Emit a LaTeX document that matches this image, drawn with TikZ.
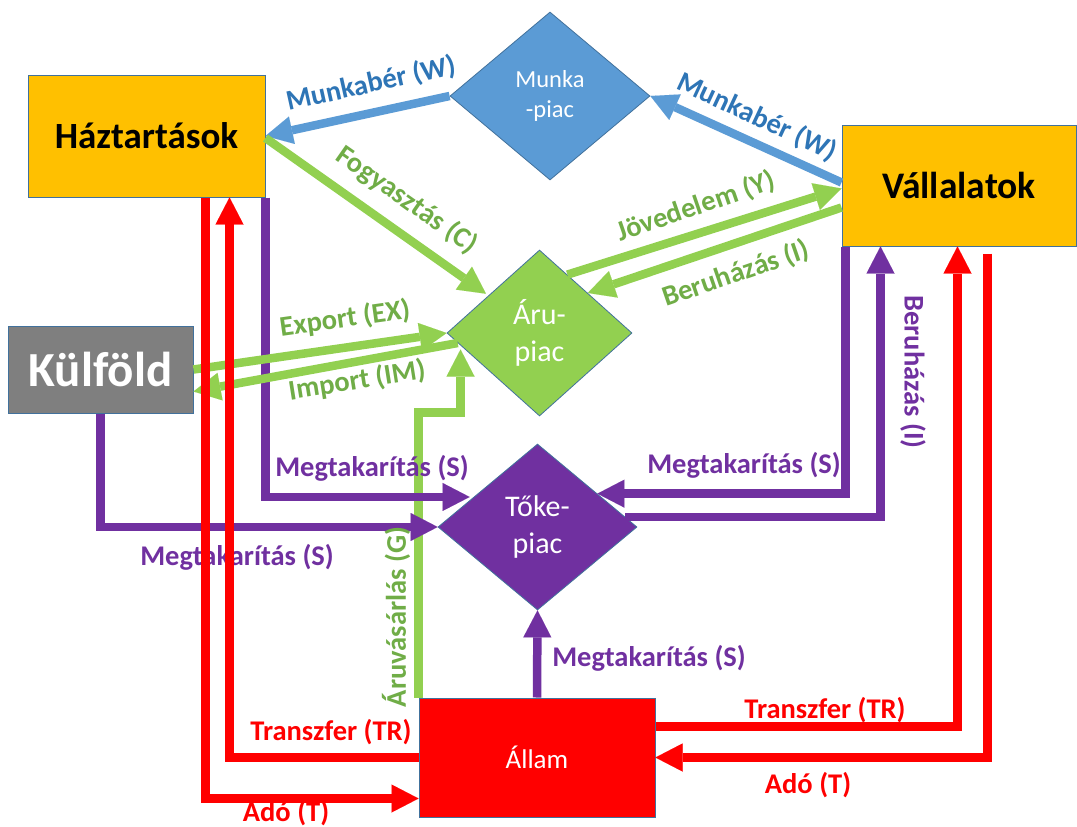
\documentclass[tikz,border=0pt]{standalone}
\usepackage{fontspec}
\setmainfont{Carlito}
\usetikzlibrary{shapes.geometric,arrows.meta,calc}

\definecolor{cyellow}{HTML}{FFC000}
\definecolor{cgrey}{HTML}{7F7F7F}
\definecolor{cblue}{HTML}{5B9BD5}
\definecolor{cbluetxt}{HTML}{2E75B6}
\definecolor{cgreen}{HTML}{92D050}
\definecolor{cgreentxt}{HTML}{70AD47}
\definecolor{cpurple}{HTML}{7030A0}
\definecolor{cred}{HTML}{FF0000}
\definecolor{cedge}{HTML}{41719C}

\begin{document}
\begin{tikzpicture}[x=1pt,y=-1pt,
  box/.style={draw=cedge, line width=1pt, inner sep=0pt, align=center},
  market/.style={diamond, draw=cedge, line width=0.8pt, inner sep=0pt,
    text=white, align=center, font=\fontsize{30}{37}\selectfont},
  flow/.style={line width=8.5pt,
    -{Triangle[length=27pt,width=28pt,line width=0.01pt]}},
  lbl/.style={font=\fontsize{28.5}{31}\selectfont\bfseries, inner sep=0pt},
]
\fill[white] (0,0) rectangle (1077,827);
\useasboundingbox (0,0) rectangle (1077,827);

% sectors
\node[box, fill=cyellow, minimum width=237pt, minimum height=122pt,
  font=\fontsize{37}{40}\selectfont\bfseries] (ht) at (146.5,136) {Háztartások};
\node[box, fill=cyellow, minimum width=234pt, minimum height=121pt,
  font=\fontsize{37.5}{40}\selectfont\bfseries] (va) at (959,185.5) {Vállalatok};
\node[box, fill=cgrey, text=white, minimum width=185pt, minimum height=87pt,
  font=\fontsize{49}{52}\selectfont\bfseries] (kf) at (100.5,369.5) {Külföld};
\node[box, fill=cred, text=white, minimum width=236pt, minimum height=119pt,
  font=\fontsize{27}{30}\selectfont] (al) at (537,757.5) {Állam};

% markets
\node[market, fill=cblue, minimum width=200pt, minimum height=168pt,
  font=\fontsize{24.5}{30}\selectfont] (mp) at (550,96) {Munka\\-piac};
\node[market, fill=cgreen, minimum width=185pt, minimum height=166pt]
  (ap) at (539.5,333) {Áru-\\piac};
\node[market, fill=cpurple, minimum width=199pt, minimum height=166pt]
  (tp) at (537.5,527) {Tőke-\\piac};

% wages
\draw[flow, cblue] (mp.west) -- (ht.east);
\draw[flow, cblue] ($(va.west)+(0,-3)$) -- (mp.east);

% government purchases
\coordinate (gtip) at ($(ap.west)!0.15!(ap.south)+(0,4)$);
\draw[flow, cgreen] (al.north west) |- ($(gtip)+(0,63)$) -- (gtip);

% savings and investment
\draw[flow, cpurple] (ht.south east) |- ($(tp.west)!0.36!(tp.north)+(-4,0)$);
\draw[flow, cpurple] (kf.south) |- (tp.west);
\draw[flow, cpurple] ($(va.south west)+(4,0)$) |- ($(tp.north)!0.6!(tp.east)$);
\draw[flow, cpurple] ($(tp.north)!0.88!(tp.east)$) -| ($(va.south west)+(39,0)$);
\draw[flow, cpurple] (al.north) -- (tp.south);

% goods market flows
\draw[flow, cgreen, shorten >=3pt] ($(ht.east)+(0,2)$) -- ($(ap.west)!0.45!(ap.north)$);
\draw[flow, cgreen] ($(ap.north)!0.3!(ap.east)$) -- ($(va.west)+(0,3)$);
\draw[flow, cgreen] ($(va.west)+(0,22)$) -- ($(ap.north)!0.52!(ap.east)$);
\draw[flow, cgreen] (kf.east) -- (ap.west);
\draw[flow, cgreen] ($(ap.west)!0.12!(ap.south)$) -- ($(kf.south east)!0.25!(kf.north east)$);

% labels
\node[lbl, text=cbluetxt, rotate=12.5] at (371,84) {Munkabér (W)};
\node[lbl, text=cbluetxt, rotate=-25] at (757,117) {Munkabér (W)};
\node[lbl, text=cgreentxt, rotate=-35] at (407,200) {Fogyasztás (C)};
\node[lbl, text=cgreentxt, rotate=19] at (696,207) {Jövedelem (Y)};
\node[lbl, text=cgreentxt, rotate=19] at (736,274) {Beruházás (I)};
\node[lbl, text=cgreentxt, rotate=8] at (345,319) {Export (EX)};
\node[lbl, text=cgreentxt, rotate=9] at (357,381) {Import (IM)};
\node[lbl, text=cgreentxt, rotate=90] at (396,617) {Áruvásárlás (G)};
\node[lbl, text=cpurple] at (372,468) {Megtakarítás (S)};
\node[lbl, text=cpurple] at (237,557) {Megtakarítás (S)};
\node[lbl, text=cpurple] at (744,465) {Megtakarítás (S)};
\node[lbl, text=cpurple] at (649,658) {Megtakarítás (S)};
\node[lbl, text=cpurple, rotate=-90] at (913,372) {Beruházás (I)};
\node[lbl, text=cred] at (331,732) {Transzfer (TR)};
\node[lbl, text=cred] at (286,813) {Adó (T)};
\node[lbl, text=cred] at (825,710) {Transzfer (TR)};
\node[lbl, text=cred] at (808,785) {Adó (T)};

% transfers and taxes
\draw[flow, cred] (al.west) -| ($(ht.south west)+(202,0)$);
\draw[flow, cred] ($(ht.south west)+(178,0)$) |- ($(al.south west)+(0,-19)$);
\draw[flow, cred] ($(al.north east)+(0,29)$) -| ($(va.south west)+(116,0)$);
\draw[flow, cred] ($(va.south west)+(146,7)$) |- (al.east);
\end{tikzpicture}
\end{document}
